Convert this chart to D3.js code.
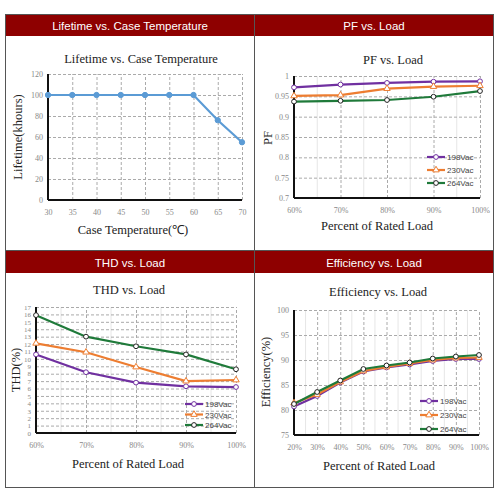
<!DOCTYPE html>
<html>
<head>
<meta charset="utf-8">
<script src="https://d3js.org/d3.v7.min.js"></script>
<style>
  body { margin: 0; background: #fff; }
  .tick text { font-family: "Liberation Serif", serif; font-size: 8px; fill: #888; }
  .title, .alabel { font-family: "Liberation Serif", serif; fill: #222; }
  .head { font-family: "Liberation Sans", Arial, sans-serif; font-size: 11.5px; fill: #fff; }
  .leg { font-family: "Liberation Sans", Arial, sans-serif; font-size: 8px; fill: #444; }
</style>
</head>
<body>
<div id="my_dataviz"></div>
<script>

// ---- data ----
var tempX = [30, 35, 40, 45, 50, 55, 60, 65, 70];
var lifetime = [100, 100, 100, 100, 100, 100, 100, 76, 55];

var loadX = [60, 70, 80, 90, 100];
var pf198 = [0.972, 0.979, 0.983, 0.986, 0.987];
var pf230 = [0.951, 0.953, 0.969, 0.974, 0.976];
var pf264 = [0.937, 0.939, 0.941, 0.949, 0.963];

var thd198 = [10.6, 8.2, 6.8, 6.3, 6.2];
var thd230 = [12.1, 10.9, 8.9, 7.0, 7.15];
var thd264 = [15.9, 13.0, 11.7, 10.6, 8.6];

var effX = [20, 30, 40, 50, 60, 70, 80, 90, 100];
var eff198 = [80.7, 82.8, 85.5, 87.7, 88.5, 89.1, 89.8, 90.2, 90.2];
var eff230 = [81.4, 83.1, 85.6, 87.8, 88.6, 89.3, 90.0, 90.4, 90.5];
var eff264 = [81.2, 83.6, 85.9, 88.2, 88.9, 89.5, 90.3, 90.7, 91.0];

var seriesNames = ["198Vac", "230Vac", "264Vac"];
var seriesColors = ["#7030a0", "#ed7d31", "#1f7a3a"];

var svg = d3.select("#my_dataviz").append("svg")
  .attr("width", 500).attr("height", 500);

// ---- frame + headers ----
svg.append("rect").attr("x", 5).attr("y", 14).attr("width", 489).attr("height", 22).attr("fill", "#8e0000");
svg.append("rect").attr("x", 5).attr("y", 251).attr("width", 489).attr("height", 22).attr("fill", "#8e0000");
svg.append("rect").attr("x", 5.5).attr("y", 14.5).attr("width", 488).attr("height", 473)
  .attr("fill", "none").attr("stroke", "#555");
svg.append("line").attr("x1", 254.5).attr("x2", 254.5).attr("y1", 14).attr("y2", 488).attr("stroke", "#555");
svg.append("line").attr("x1", 5).attr("x2", 494).attr("y1", 250.5).attr("y2", 250.5).attr("stroke", "#555");

var heads = [["Lifetime vs. Case Temperature", 130, 29.5], ["PF vs. Load", 374, 29.5],
             ["THD vs. Load", 130, 266.5], ["Efficiency vs. Load", 374, 266.5]];
svg.selectAll("heads").data(heads).enter().append("text")
  .attr("class", "head").attr("text-anchor", "middle")
  .attr("x", function(d){ return d[1]; }).attr("y", function(d){ return d[2]; })
  .text(function(d){ return d[0]; });

// ---- generic chart ----
function chart(o) {
  var x = d3.scaleLinear().domain(o.xd).range([o.x0, o.x1]);
  var y = d3.scaleLinear().domain(o.yd).range([o.y0, o.y1]);
  var g = svg.append("g");

  // minor vertical lines
  if (o.minor) {
    var mid = d3.range(o.xd[0] + o.xstep / 2, o.xd[1], o.xstep);
    g.selectAll("minor").data(mid).enter().append("line")
      .attr("x1", function(d){ return x(d); }).attr("x2", function(d){ return x(d); })
      .attr("y1", o.y0).attr("y2", o.y1).attr("stroke", "#e6e6e6");
  }

  // grid
  g.append("g").attr("transform", "translate(" + o.x0 + ",0)")
    .call(d3.axisLeft(y).tickValues(o.yticks).tickSize(-(o.x1 - o.x0)).tickFormat(o.yfmt))
    .call(function(a){
      a.select(".domain").remove();
      a.selectAll("line").attr("stroke", "#aaa").attr("stroke-dasharray", "3,2");
      a.selectAll("text").attr("x", -5).style("font-size", o.yfs || "8px");
    });
  g.append("g").attr("transform", "translate(0," + o.y0 + ")")
    .call(d3.axisBottom(x).tickValues(o.xticks).tickSize(-(o.y0 - o.y1)).tickFormat(o.xfmt))
    .call(function(a){
      a.select(".domain").remove();
      a.selectAll("line").attr("stroke", "#aaa").attr("stroke-dasharray", "3,2");
      a.selectAll("text").attr("y", 9);
    });

  // black axes
  g.append("line").attr("x1", o.x0).attr("x2", o.x0).attr("y1", o.y0).attr("y2", o.y1)
    .attr("stroke", "#111").attr("stroke-width", 2);
  g.append("line").attr("x1", o.x0).attr("x2", o.x1).attr("y1", o.y0).attr("y2", o.y0)
    .attr("stroke", "#111").attr("stroke-width", 2);

  // series
  o.series.forEach(function(s, i) {
    var pts = o.xs.map(function(v, j){ return [v, s.values[j]]; });
    g.append("path").datum(pts)
      .attr("fill", "none").attr("stroke", s.color).attr("stroke-width", 2.2)
      .attr("d", d3.line().x(function(d){ return x(d[0]); }).y(function(d){ return y(d[1]); }));
    g.selectAll("pts").data(pts).enter().append("path")
      .attr("transform", function(d){ return "translate(" + x(d[0]) + "," + y(d[1]) + ")"; })
      .attr("d", d3.symbol().type(s.marker).size(s.msize || 18))
      .attr("fill", s.mfill).attr("stroke", s.mstroke).attr("stroke-width", 1);
  });

  // legend
  if (o.legend) {
    o.series.forEach(function(s, i) {
      var ly = o.legend[1] + i * o.legend[2];
      g.append("line").attr("x1", o.legend[0]).attr("x2", o.legend[0] + 18)
        .attr("y1", ly).attr("y2", ly).attr("stroke", s.color).attr("stroke-width", 2.2);
      g.append("path").attr("transform", "translate(" + (o.legend[0] + 9) + "," + ly + ")")
        .attr("d", d3.symbol().type(s.marker).size(18))
        .attr("fill", s.mfill).attr("stroke", s.mstroke);
      g.append("text").attr("class", "leg").attr("x", o.legend[0] + 20).attr("y", ly + 3)
        .text(s.name);
    });
  }

  // titles
  g.append("text").attr("class", "title").attr("text-anchor", "middle")
    .attr("x", o.title[1]).attr("y", o.title[2]).style("font-size", "12.5px").text(o.title[0]);
  g.append("text").attr("class", "alabel").attr("text-anchor", "middle")
    .attr("x", o.xlab[1]).attr("y", o.xlab[2]).style("font-size", "12.5px").text(o.xlab[0]);
  g.append("text").attr("class", "alabel").attr("text-anchor", "middle")
    .attr("transform", "translate(" + o.ylab[1] + "," + o.ylab[2] + ") rotate(-90)")
    .style("font-size", "12.5px").text(o.ylab[0]);
}

function tri(vals) {
  return seriesNames.map(function(n, i) {
    return { name: n, color: seriesColors[i], values: vals[i],
             marker: i == 1 ? d3.symbolTriangle : d3.symbolCircle,
             mfill: "#fff", mstroke: i == 2 ? "#222" : seriesColors[i] };
  });
}
var pct = function(d){ return d + "%"; };

chart({
  xd: [30, 70], yd: [0, 120], x0: 48, x1: 242, y0: 200, y1: 74,
  xticks: tempX, yticks: d3.range(0, 121, 20), xstep: 5, xs: tempX,
  xfmt: d3.format("d"), yfmt: d3.format("d"),
  series: [{ name: "life", color: "#5b9bd5", values: lifetime, marker: d3.symbolCircle,
             mfill: "#5b9bd5", mstroke: "#5b9bd5", msize: 22 }],
  title: ["Lifetime vs. Case Temperature", 141, 63],
  xlab: ["Case Temperature(\u2103)", 133, 234],
  ylab: ["Lifetime(khours)", 22, 137]
});

chart({
  xd: [60, 100], yd: [0.7, 1], x0: 294, x1: 480, y0: 198, y1: 76, minor: true,
  xticks: loadX, yticks: [0.7, 0.75, 0.8, 0.85, 0.9, 0.95, 1], xstep: 10, xs: loadX,
  xfmt: pct, yfmt: function(d){ return String(+d.toFixed(2)); },
  series: tri([pf198, pf230, pf264]),
  legend: [427, 157, 13],
  title: ["PF vs. Load", 393, 64],
  xlab: ["Percent of Rated Load", 377, 230],
  ylab: ["PF", 272, 138]
});

chart({
  xd: [60, 100], yd: [0, 17], x0: 36, x1: 236, y0: 433, y1: 307, minor: true,
  xticks: loadX, yticks: d3.range(0, 18, 1), xstep: 10, xs: loadX, yfs: "7px",
  xfmt: pct, yfmt: d3.format("d"),
  series: tri([thd198, thd230, thd264]),
  legend: [185, 404, 10.5],
  title: ["THD vs. Load", 129, 294],
  xlab: ["Percent of Rated Load", 128, 468],
  ylab: ["THD(%)", 20, 370]
});

chart({
  xd: [20, 100], yd: [75, 100], x0: 294, x1: 479, y0: 435, y1: 310, minor: true,
  xticks: effX, yticks: d3.range(75, 101, 5), xstep: 10, xs: effX,
  xfmt: pct, yfmt: d3.format("d"),
  series: tri([eff198, eff230, eff264]),
  legend: [420, 401, 14],
  title: ["Efficiency vs. Load", 378, 296],
  xlab: ["Percent of Rated Load", 379, 470],
  ylab: ["Efficiency(%)", 270, 372]
});

</script>
</body>
</html>
